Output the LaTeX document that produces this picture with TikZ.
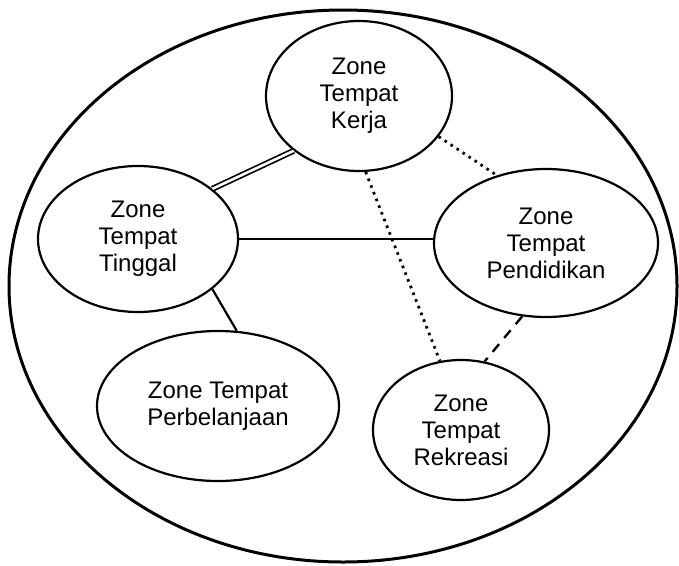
\documentclass[tikz,border=0pt]{standalone}
\usepackage{fontspec}
\setmainfont{Liberation Sans}
\usetikzlibrary{shapes.geometric}
\begin{document}
\begin{tikzpicture}[x=1pt,y=-1pt,
  zone/.style={draw, ellipse, line width=2.2pt, inner sep=0pt, align=center,
    font=\fontsize{24}{27}\selectfont},
  link/.style={line width=2.2pt},
  twinlink/.style={double, line width=1.7pt, double distance=2.6pt},
  dotlink/.style={line width=2.8pt, dash pattern=on 2.6pt off 4.6pt},
  dashlink/.style={line width=2.4pt, dash pattern=on 10pt off 8pt}
]
\useasboundingbox (0,0) rectangle (679,565);

% surrounding city boundary
\draw[line width=3pt] (343,286) ellipse [x radius=334pt, y radius=276pt];

% zones
\node[zone, minimum width=186pt, minimum height=150pt] (work)    at (359,96)  {Zone\\Tempat\\Kerja};
\node[zone, minimum width=200pt, minimum height=146pt] (home)    at (138,239) {Zone\\Tempat\\Tinggal};
\node[zone, minimum width=224pt, minimum height=148pt] (school)  at (546,243) {Zone\\Tempat\\Pendidikan};
\node[zone, minimum width=242pt, minimum height=150pt] (shop)    at (218,406) {Zone Tempat\\Perbelanjaan};
\node[zone, minimum width=176pt, minimum height=140pt] (leisure) at (461,430) {Zone\\Tempat\\Rekreasi};

% relations between zones
\draw[twinlink] (home.34) -- (work.220);
\draw[link] (home.east) -- (home.east -| school.west);
\draw[link] (home.-34) -- (shop.76);
\draw[dotlink] (work.-27) -- (school.126);
\draw[dotlink] (work.-85) -- (leisure.107);
\draw[dashlink] (school.252) -- (leisure.71);
\end{tikzpicture}
\end{document}
